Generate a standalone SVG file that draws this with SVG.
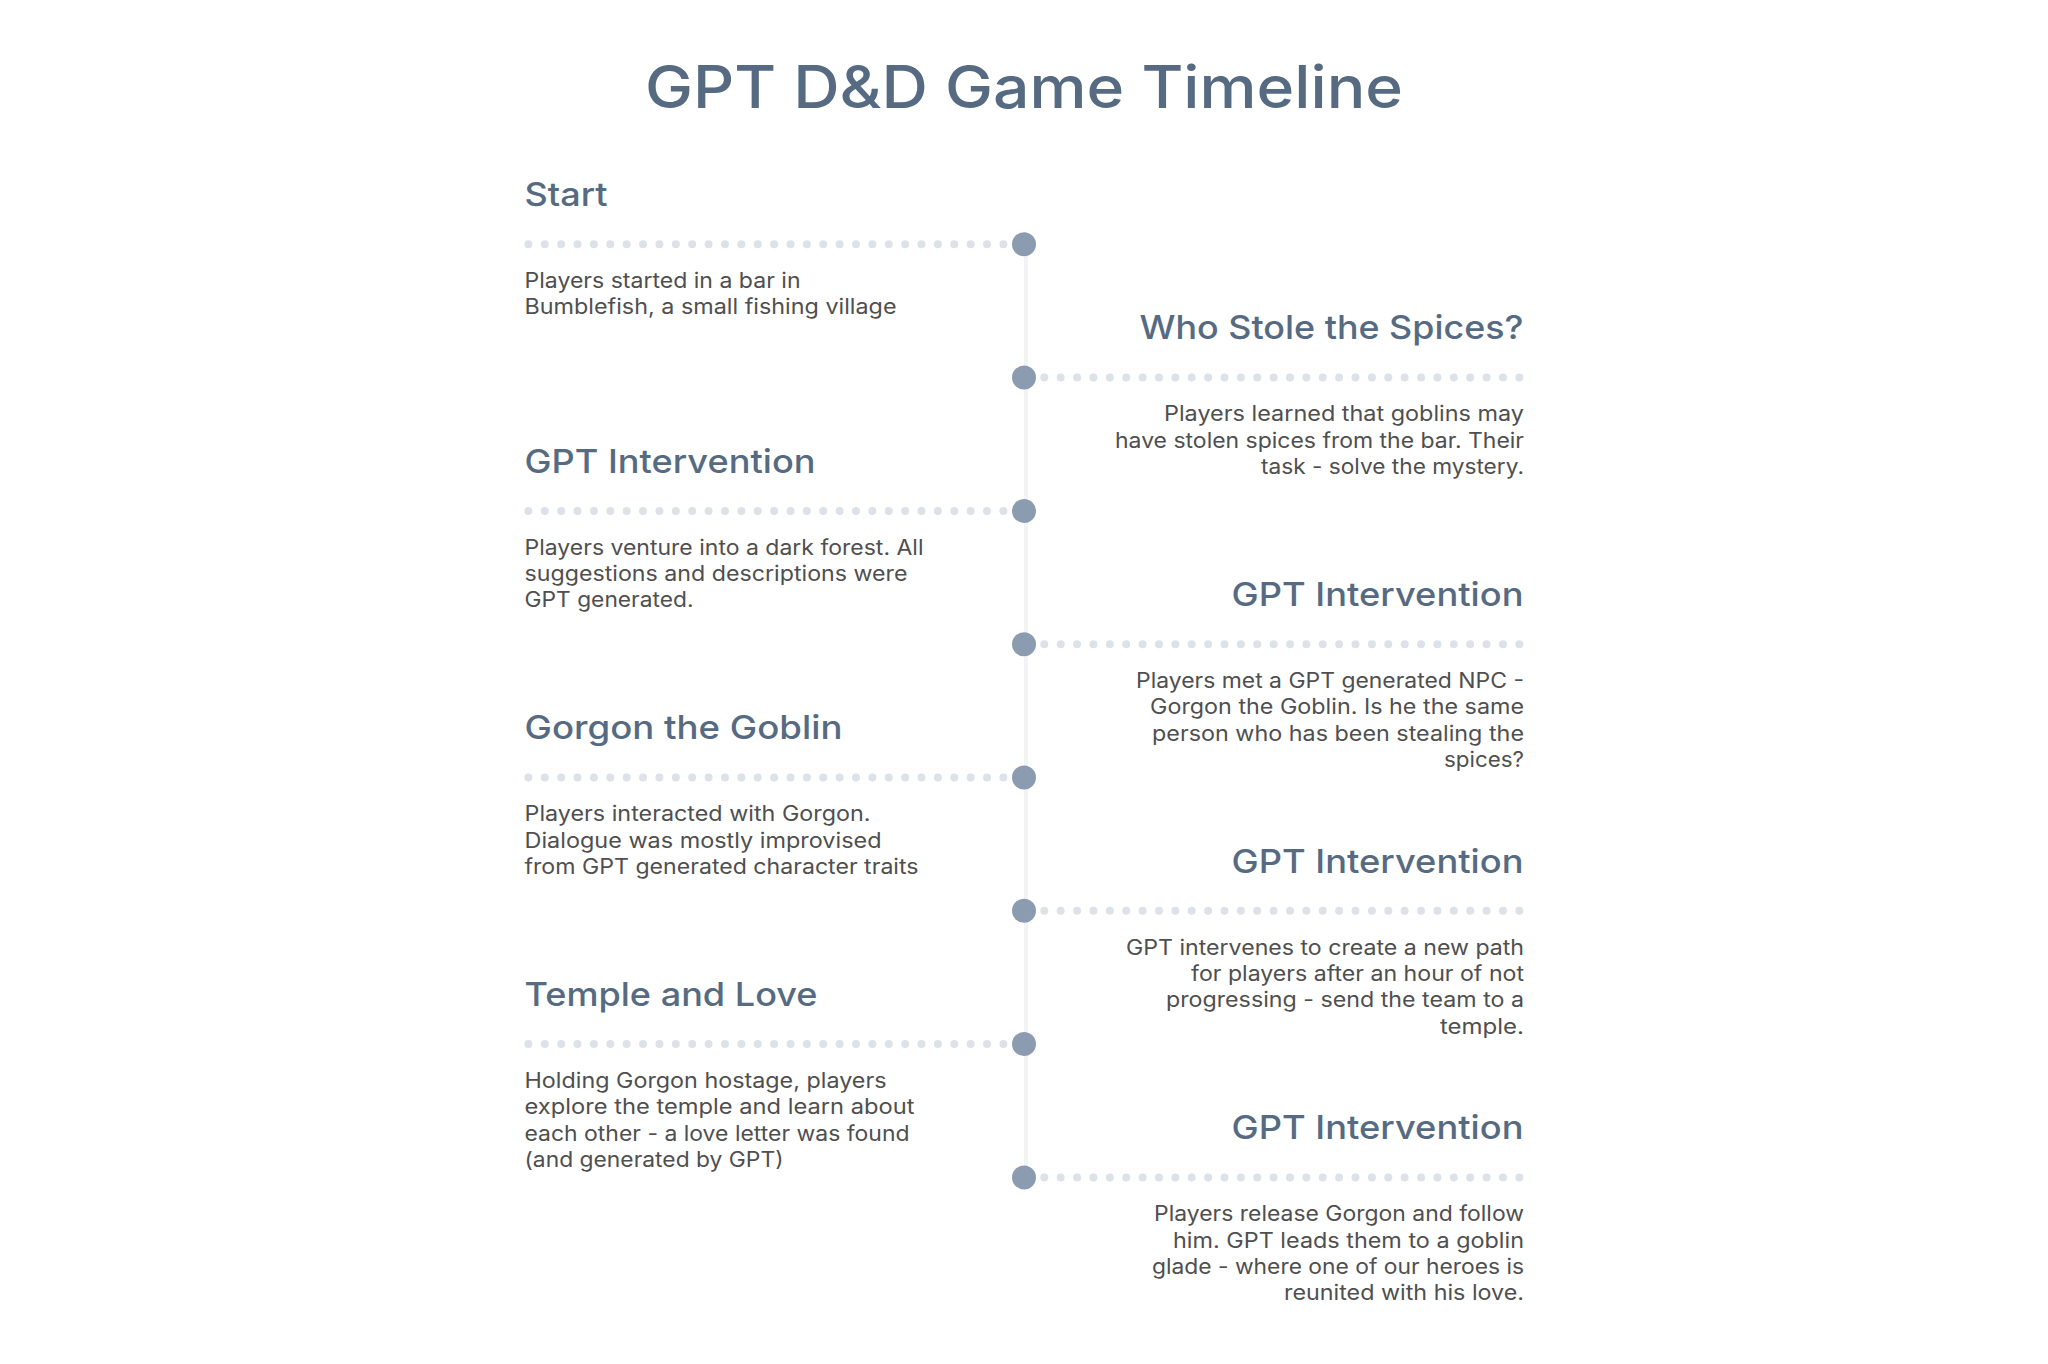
<svg xmlns="http://www.w3.org/2000/svg" width="2048" height="1364" viewBox="0 0 2048 1364">
<style>
text{font-family:"Inter","Open Sans","Liberation Sans",sans-serif}
.title{font-size:59px;font-weight:500;fill:#566b82;text-anchor:middle}
.h{font-size:33px;font-weight:500;fill:#566b82}
.b{font-size:21px;font-weight:400;fill:#4f4f4f}
.r{text-anchor:end}
.dot{fill:#8c9cb0}
.dots{stroke:#dde1e8;stroke-width:8;stroke-linecap:round;stroke-dasharray:0 16.38;fill:none}
.spine{stroke:#f2f3f5;stroke-width:4;fill:none}
</style>
<rect width="2048" height="1364" fill="#ffffff"/>
<g id="title"><text class="title" x="1024" y="108" textLength="758" lengthAdjust="spacingAndGlyphs">GPT D&amp;D Game Timeline</text></g>
<g id="connectors">
<line class="spine" x1="1026" y1="244.3" x2="1026" y2="1177.4"/>
<line class="dots" x1="528.4" y1="244.3" x2="1003.5" y2="244.3"/>
<line class="dots" x1="1044.3" y1="377.6" x2="1519.4" y2="377.6"/>
<line class="dots" x1="528.4" y1="510.9" x2="1003.5" y2="510.9"/>
<line class="dots" x1="1044.3" y1="644.2" x2="1519.4" y2="644.2"/>
<line class="dots" x1="528.4" y1="777.5" x2="1003.5" y2="777.5"/>
<line class="dots" x1="1044.3" y1="910.8" x2="1519.4" y2="910.8"/>
<line class="dots" x1="528.4" y1="1044.1" x2="1003.5" y2="1044.1"/>
<line class="dots" x1="1044.3" y1="1177.4" x2="1519.4" y2="1177.4"/>
</g>
<g id="node-start">
<circle class="dot" cx="1024" cy="244.3" r="12"/>
<text class="h" x="524.5" y="206" textLength="83" lengthAdjust="spacingAndGlyphs">Start</text>
<text class="b" x="524.5" y="288" textLength="276" lengthAdjust="spacingAndGlyphs">Players started in a bar in</text>
<text class="b" x="524.5" y="314.4" textLength="372" lengthAdjust="spacingAndGlyphs">Bumblefish, a small fishing village</text>
</g>
<g id="node-spices">
<circle class="dot" cx="1024" cy="377.6" r="12"/>
<text class="h r" x="1523.5" y="339.3" textLength="384" lengthAdjust="spacingAndGlyphs">Who Stole the Spices?</text>
<text class="b r" x="1524" y="421.3" textLength="360" lengthAdjust="spacingAndGlyphs">Players learned that goblins may</text>
<text class="b r" x="1524" y="447.7" textLength="409" lengthAdjust="spacingAndGlyphs">have stolen spices from the bar. Their</text>
<text class="b r" x="1524" y="474.1" textLength="263" lengthAdjust="spacingAndGlyphs">task - solve the mystery.</text>
</g>
<g id="node-gpt1">
<circle class="dot" cx="1024" cy="510.9" r="12"/>
<text class="h" x="524.5" y="472.6" textLength="291" lengthAdjust="spacingAndGlyphs">GPT Intervention</text>
<text class="b" x="524.5" y="554.6" textLength="399" lengthAdjust="spacingAndGlyphs">Players venture into a dark forest. All</text>
<text class="b" x="524.5" y="581" textLength="383" lengthAdjust="spacingAndGlyphs">suggestions and descriptions were</text>
<text class="b" x="524.5" y="607.4" textLength="169" lengthAdjust="spacingAndGlyphs">GPT generated.</text>
</g>
<g id="node-gpt2">
<circle class="dot" cx="1024" cy="644.2" r="12"/>
<text class="h r" x="1523.5" y="605.9" textLength="292" lengthAdjust="spacingAndGlyphs">GPT Intervention</text>
<text class="b r" x="1524" y="687.9" textLength="388" lengthAdjust="spacingAndGlyphs">Players met a GPT generated NPC -</text>
<text class="b r" x="1524" y="714.3" textLength="374" lengthAdjust="spacingAndGlyphs">Gorgon the Goblin. Is he the same</text>
<text class="b r" x="1524" y="740.7" textLength="372" lengthAdjust="spacingAndGlyphs">person who has been stealing the</text>
<text class="b r" x="1524" y="767.1" textLength="80" lengthAdjust="spacingAndGlyphs">spices?</text>
</g>
<g id="node-gorgon">
<circle class="dot" cx="1024" cy="777.5" r="12"/>
<text class="h" x="524.5" y="739.2" textLength="318" lengthAdjust="spacingAndGlyphs">Gorgon the Goblin</text>
<text class="b" x="524.5" y="821.2" textLength="346" lengthAdjust="spacingAndGlyphs">Players interacted with Gorgon.</text>
<text class="b" x="524.5" y="847.6" textLength="357" lengthAdjust="spacingAndGlyphs">Dialogue was mostly improvised</text>
<text class="b" x="524.5" y="874" textLength="394" lengthAdjust="spacingAndGlyphs">from GPT generated character traits</text>
</g>
<g id="node-gpt3">
<circle class="dot" cx="1024" cy="910.8" r="12"/>
<text class="h r" x="1523.5" y="872.5" textLength="292" lengthAdjust="spacingAndGlyphs">GPT Intervention</text>
<text class="b r" x="1524" y="954.5" textLength="398" lengthAdjust="spacingAndGlyphs">GPT intervenes to create a new path</text>
<text class="b r" x="1524" y="980.9" textLength="333" lengthAdjust="spacingAndGlyphs">for players after an hour of not</text>
<text class="b r" x="1524" y="1007.3" textLength="358" lengthAdjust="spacingAndGlyphs">progressing - send the team to a</text>
<text class="b r" x="1524" y="1033.7" textLength="84" lengthAdjust="spacingAndGlyphs">temple.</text>
</g>
<g id="node-temple">
<circle class="dot" cx="1024" cy="1044.1" r="12"/>
<text class="h" x="524.5" y="1005.8" textLength="293" lengthAdjust="spacingAndGlyphs">Temple and Love</text>
<text class="b" x="524.5" y="1087.8" textLength="362" lengthAdjust="spacingAndGlyphs">Holding Gorgon hostage, players</text>
<text class="b" x="524.5" y="1114.2" textLength="390" lengthAdjust="spacingAndGlyphs">explore the temple and learn about</text>
<text class="b" x="524.5" y="1140.6" textLength="385" lengthAdjust="spacingAndGlyphs">each other - a love letter was found</text>
<text class="b" x="524.5" y="1167" textLength="259" lengthAdjust="spacingAndGlyphs">(and generated by GPT)</text>
</g>
<g id="node-gpt4">
<circle class="dot" cx="1024" cy="1177.4" r="12"/>
<text class="h r" x="1523.5" y="1139.1" textLength="292" lengthAdjust="spacingAndGlyphs">GPT Intervention</text>
<text class="b r" x="1524" y="1221.1" textLength="370" lengthAdjust="spacingAndGlyphs">Players release Gorgon and follow</text>
<text class="b r" x="1524" y="1247.5" textLength="351" lengthAdjust="spacingAndGlyphs">him. GPT leads them to a goblin</text>
<text class="b r" x="1524" y="1273.9" textLength="372" lengthAdjust="spacingAndGlyphs">glade - where one of our heroes is</text>
<text class="b r" x="1524" y="1300.3" textLength="240" lengthAdjust="spacingAndGlyphs">reunited with his love.</text>
</g>
</svg>
